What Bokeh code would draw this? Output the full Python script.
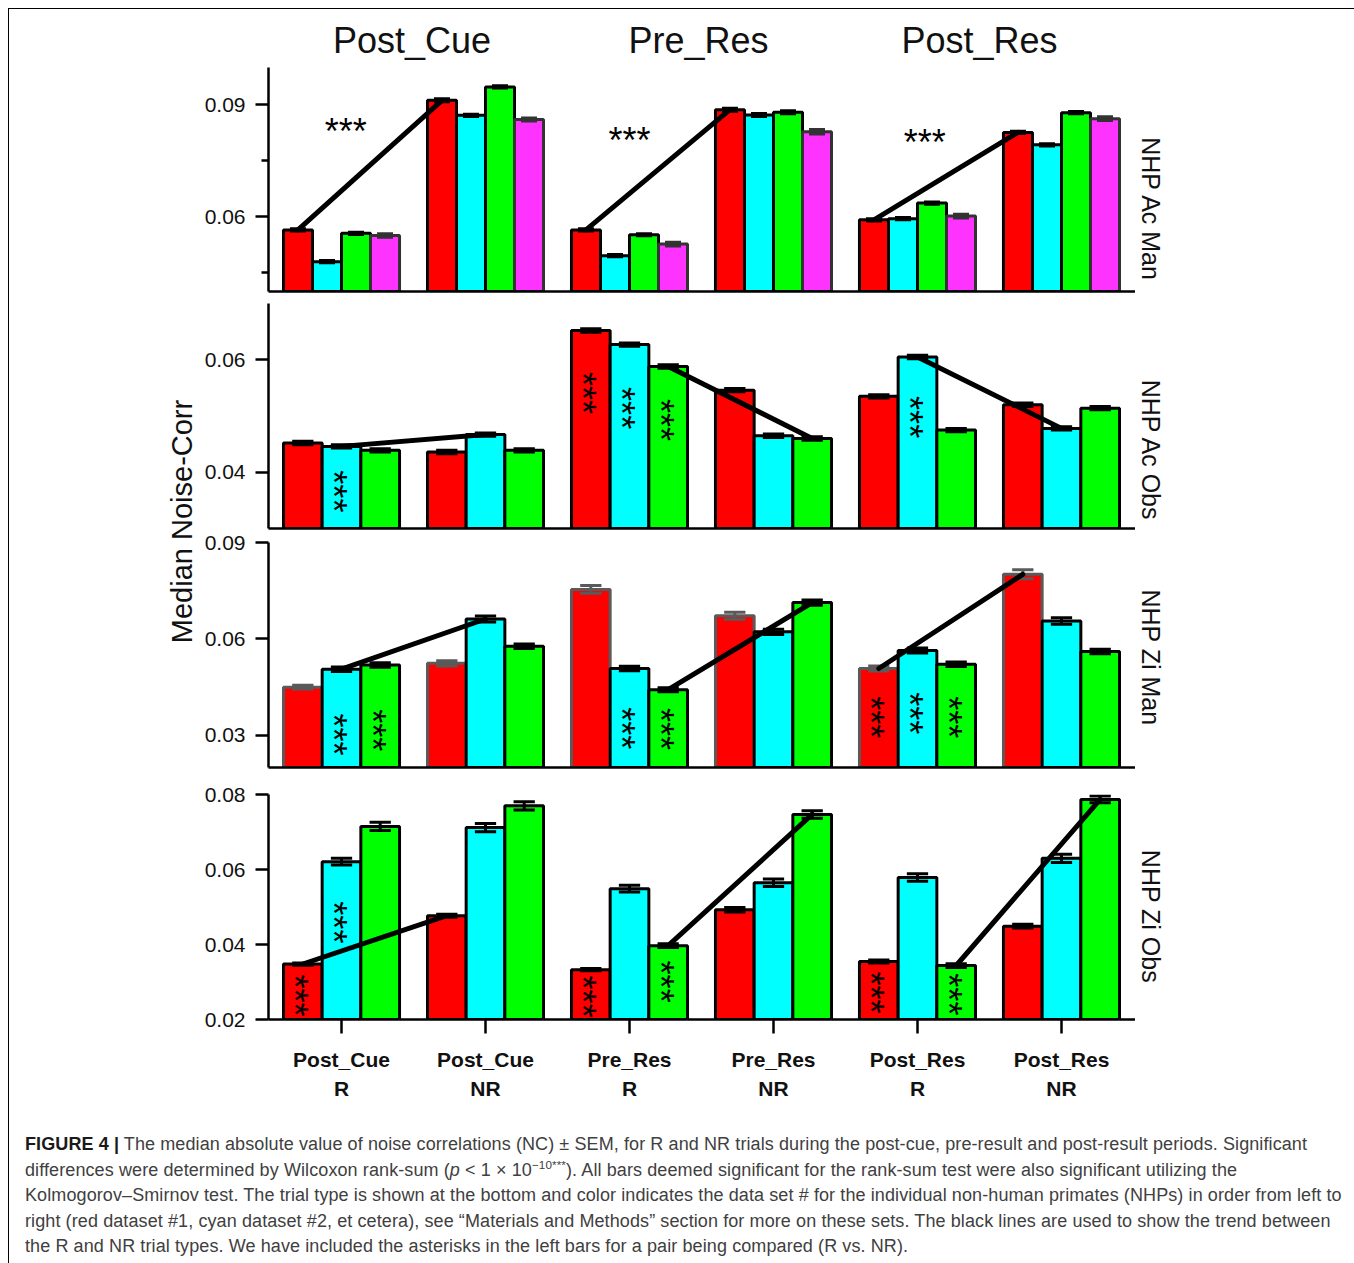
import math
from bokeh.plotting import figure
from bokeh.models import ColumnDataSource, FixedTicker, Range1d, Label, Div, PrintfTickFormatter
from bokeh.layouts import column, row
from bokeh.embed import file_html
from bokeh.resources import INLINE
from bokeh.core.properties import value

# ---------------- data ----------------
group_labels = ["Post_Cue\nR", "Post_Cue\nNR", "Pre_Res\nR", "Pre_Res\nNR", "Post_Res\nR", "Post_Res\nNR"]
period_titles = ["Post_Cue", "Pre_Res", "Post_Res"]
panel_labels = ["NHP Ac Man", "NHP Ac Obs", "NHP Zi Man", "NHP Zi Obs"]
dataset_colors = ["#FF0000", "#00FFFF", "#00FF00", "#FF33FF"]

# rows = trial groups (Post_Cue R, Post_Cue NR, Pre_Res R, Pre_Res NR, Post_Res R, Post_Res NR)
# cols = data sets (#1 red, #2 cyan, #3 green, #4 magenta)
ac_man_vals = [[0.0565, 0.0480, 0.0556, 0.0550],
               [0.0912, 0.0872, 0.0948, 0.0861],
               [0.0565, 0.0496, 0.0552, 0.0527],
               [0.0887, 0.0873, 0.0880, 0.0828],
               [0.0592, 0.0595, 0.0637, 0.0602],
               [0.0826, 0.0793, 0.0879, 0.0863]]
ac_man_sem = [[0.0003, 0.0003, 0.0003, 0.0005],
              [0.0004, 0.0003, 0.0003, 0.0004],
              [0.0003, 0.0003, 0.0003, 0.0005],
              [0.0004, 0.0004, 0.0004, 0.0006],
              [0.0003, 0.0003, 0.0003, 0.0005],
              [0.0003, 0.0003, 0.0003, 0.0005]]

ac_obs_vals = [[0.0452, 0.0446, 0.0439],
               [0.0436, 0.0467, 0.0439],
               [0.0652, 0.0627, 0.0588],
               [0.0546, 0.0465, 0.0460],
               [0.0535, 0.0605, 0.0475],
               [0.0520, 0.0478, 0.0514]]
ac_obs_sem = [[0.0003, 0.0003, 0.0003],
              [0.0003, 0.0003, 0.0003],
              [0.0003, 0.0003, 0.0003],
              [0.0003, 0.0003, 0.0003],
              [0.0003, 0.0003, 0.0003],
              [0.0003, 0.0003, 0.0003]]

zi_man_vals = [[0.0450, 0.0506, 0.0519],
               [0.0524, 0.0662, 0.0577],
               [0.0754, 0.0508, 0.0442],
               [0.0672, 0.0622, 0.0713],
               [0.0508, 0.0564, 0.0521],
               [0.0801, 0.0656, 0.0561]]
zi_man_sem = [[0.0006, 0.0007, 0.0007],
              [0.0008, 0.0009, 0.0007],
              [0.0012, 0.0007, 0.0006],
              [0.0011, 0.0008, 0.0008],
              [0.0008, 0.0008, 0.0007],
              [0.0014, 0.0010, 0.0007]]

zi_obs_vals = [[0.0348, 0.0621, 0.0715],
               [0.0477, 0.0712, 0.0770],
               [0.0333, 0.0549, 0.0397],
               [0.0493, 0.0565, 0.0747],
               [0.0355, 0.0579, 0.0344],
               [0.0449, 0.0630, 0.0787]]
zi_obs_sem = [[0.0003, 0.0009, 0.0011],
              [0.0004, 0.0011, 0.0011],
              [0.0003, 0.0009, 0.0005],
              [0.0006, 0.0010, 0.0010],
              [0.0004, 0.0010, 0.0005],
              [0.0005, 0.0011, 0.0009]]

# outline colour of each data set's bars in a panel
ac_man_outline = ["#000000", "#000000", "#000000", "#333333"]
ac_obs_outline = ["#000000", "#000000", "#000000"]
zi_man_outline = ["#5a5a5a", "#000000", "#000000"]
zi_obs_outline = ["#000000", "#000000", "#000000"]

# data set joined by the black trend line, per period (Post_Cue, Pre_Res, Post_Res)
ac_man_trend = [0, 0, 0]
ac_obs_trend = [1, 2, 1]
zi_man_trend = [1, 2, 0]
zi_obs_trend = [0, 2, 2]

# significance marks inside bars: (group, data set, height)
ac_obs_stars = [(0, 1, 0.0366), (2, 0, 0.0541), (2, 1, 0.0514), (2, 2, 0.0493), (4, 1, 0.0498)]
zi_man_stars = [(0, 1, 0.0303), (0, 2, 0.0316), (2, 1, 0.0322), (2, 2, 0.0320),
                (4, 0, 0.0356), (4, 1, 0.0369), (4, 2, 0.0356)]
zi_obs_stars = [(0, 0, 0.0264), (0, 1, 0.0459), (2, 0, 0.0261), (2, 2, 0.0301),
                (4, 0, 0.0272), (4, 2, 0.0267)]
# significance marks above bars: (x, height)
ac_man_top_stars = [(0.03, 0.0849), (2.0, 0.0826), (4.05, 0.0820)]

FONT = "Liberation Sans"
GROUP_W = 0.806
X0, X1 = -0.507, 5.514
FRAME_W = 867
LEFT_B = 69


def build(vals, sems, outlines, yr, major, minor, trend, stars, top_stars,
          top_b, bot_b, frame_h, bottom_axis):
    n = len(vals[0])
    bw = GROUP_W / n

    def xpos(g, s):
        return g + (s - (n - 1) / 2) * bw

    d = dict(x=[], top=[], fill=[], line=[], lo=[], hi=[])
    for g, grp in enumerate(vals):
        for s, v in enumerate(grp):
            d["x"].append(xpos(g, s))
            d["top"].append(v)
            d["fill"].append(dataset_colors[s])
            d["line"].append(outlines[s])
            d["lo"].append(v - sems[g][s])
            d["hi"].append(v + sems[g][s])
    src = ColumnDataSource(d)

    p = figure(frame_width=FRAME_W, frame_height=frame_h,
               x_range=Range1d(X0, X1), y_range=Range1d(*yr),
               output_backend="svg", toolbar_location=None, title=None,
               min_border_left=LEFT_B, min_border_right=0,
               min_border_top=top_b, min_border_bottom=bot_b)
    p.outline_line_color = None
    p.xgrid.visible = False
    p.ygrid.visible = False
    p.background_fill_color = "white"
    p.border_fill_color = None

    p.vbar(x="x", top="top", width=bw, fill_color="fill", line_color="line",
           line_width=3, source=src)
    p.segment(x0="x", y0="lo", x1="x", y1="hi", line_color="line", line_width=3, source=src)
    cw = bw * 0.55
    p.rect(x="x", y="hi", width=cw, height=3, height_units="screen",
           fill_color="line", line_color=None, source=src)
    p.rect(x="x", y="lo", width=cw, height=3, height_units="screen",
           fill_color="line", line_color=None, source=src)

    t = dict(x0=[], y0=[], x1=[], y1=[])
    for k, s in enumerate(trend):
        g0, g1 = 2 * k, 2 * k + 1
        t["x0"].append(xpos(g0, s)); t["y0"].append(vals[g0][s])
        t["x1"].append(xpos(g1, s)); t["y1"].append(vals[g1][s])
    p.segment(x0="x0", y0="y0", x1="x1", y1="y1", source=ColumnDataSource(t),
              line_color="black", line_width=5, line_cap="round")

    if stars:
        sx = [xpos(g, s) for g, s, _ in stars]
        sy = [h for _, _, h in stars]
        p.text(x=sx, y=sy, text=["***"] * len(sx), angle=-math.pi / 2,
               text_font=value(FONT), text_font_size="36px", text_color="black",
               text_align="center", text_baseline="middle", x_offset=-8)
    if top_stars:
        p.text(x=[a for a, _ in top_stars], y=[b for _, b in top_stars],
               text=["***"] * len(top_stars),
               text_font=value(FONT), text_font_size="36px", text_color="black",
               text_align="center", text_baseline="middle", y_offset=8)

    ya = p.yaxis[0]
    ya.ticker = FixedTicker(ticks=major, minor_ticks=minor)
    ya.formatter = PrintfTickFormatter(format="%.2f")
    ya.axis_line_width = 2.5
    ya.major_tick_line_width = 2.5
    ya.minor_tick_line_width = 2.5
    ya.major_tick_out = 13
    ya.major_tick_in = 0
    ya.minor_tick_out = 7
    ya.minor_tick_in = 0
    ya.major_label_text_font = FONT
    ya.major_label_text_font_size = "21px"
    ya.major_label_text_color = "#111111"
    ya.major_label_standoff = 10

    xa = p.xaxis[0]
    xa.axis_line_width = 2.5
    xa.minor_tick_line_color = None
    if bottom_axis:
        xa.ticker = FixedTicker(ticks=list(range(len(group_labels))))
        xa.major_label_overrides = {i: lab for i, lab in enumerate(group_labels)}
        xa.major_tick_out = 14
        xa.major_tick_in = 0
        xa.major_tick_line_width = 2.5
        xa.major_label_text_font = FONT
        xa.major_label_text_font_style = "bold"
        xa.major_label_text_font_size = "21px"
        xa.major_label_text_line_height = 1.3
        xa.major_label_text_color = "#111111"
        xa.major_label_standoff = 14
    else:
        xa.ticker = FixedTicker(ticks=[])
        xa.major_tick_out = 0
        xa.major_tick_in = 0
        xa.major_label_text_font_size = "0px"
        xa.major_label_standoff = 0
    return p


def blank(width, height, xr, yr, left=0):
    f = figure(width=width, height=height, x_range=xr, y_range=yr,
               output_backend="svg", toolbar_location=None, title=None,
               min_border=0, min_border_left=left, x_axis_location=None, y_axis_location=None)
    f.outline_line_color = None
    f.xgrid.visible = False
    f.ygrid.visible = False
    f.border_fill_color = None
    return f


# period titles above the top panel (same x scale as the panels)
tfig = figure(frame_width=FRAME_W, frame_height=58, x_range=Range1d(X0, X1), y_range=Range1d(0, 58),
              output_backend="svg", toolbar_location=None, title=None,
              min_border_left=LEFT_B, min_border_right=0, min_border_top=0, min_border_bottom=0,
              x_axis_location=None, y_axis_location=None)
tfig.outline_line_color = None
tfig.xgrid.visible = False
tfig.ygrid.visible = False
for xc, ttl in zip([0.49, 2.479, 4.431], period_titles):
    tfig.add_layout(Label(x=xc, y=27, text=ttl, text_font=FONT, text_font_size="36px",
                          text_color="#111111", text_align="center", text_baseline="middle"))

p1 = build(ac_man_vals, ac_man_sem, ac_man_outline, (0.04, 0.10), [0.06, 0.09], [0.045, 0.075],
           ac_man_trend, [], ac_man_top_stars, 0, 6, 224, False)
p2 = build(ac_obs_vals, ac_obs_sem, ac_obs_outline, (0.03, 0.07), [0.04, 0.06], [],
           ac_obs_trend, ac_obs_stars, [], 6, 2, 225, False)
p3 = build(zi_man_vals, zi_man_sem, zi_man_outline, (0.02, 0.09), [0.03, 0.06, 0.09], [],
           zi_man_trend, zi_man_stars, [], 12, 13, 225, False)
p4 = build(zi_obs_vals, zi_obs_sem, zi_obs_outline, (0.02, 0.08), [0.02, 0.04, 0.06, 0.08], [],
           zi_obs_trend, zi_obs_stars, [], 14, 90, 225, True)

# y label column
ylab = blank(190, 1100, Range1d(0, 190), Range1d(0, 1100))
ylab.add_layout(Label(x=172, y=588, text="Median Noise-Corr", angle=math.pi / 2,
                      text_font=FONT, text_font_size="29px", text_color="#111111",
                      text_align="center", text_baseline="middle"))

# panel names at the right
rlab = blank(216, 1100, Range1d(0, 216), Range1d(0, 1100))
for yc, name in zip([900, 659, 452, 193], panel_labels):
    rlab.add_layout(Label(x=15, y=yc, text=name, angle=-math.pi / 2,
                          text_font=FONT, text_font_size="25px", text_color="#111111",
                          text_align="center", text_baseline="middle"))

caption_html = (
    '<div style="font-family:\'Liberation Sans\',Arial,sans-serif;font-size:18px;'
    'letter-spacing:0.1px;line-height:25.5px;color:#404040;white-space:nowrap;padding:18px 0 0 11px;">'
    '<b style="color:#1a1a1a">FIGURE 4</b> <b style="color:#1a1a1a">|</b> The median absolute value of noise '
    'correlations (NC) ± SEM, for R and NR trials during the post-cue, pre-result and '
    'post-result periods. Significant<br>'
    'differences were determined by Wilcoxon rank-sum (<i>p</i> &lt; 1 × 10'
    '<sup style="font-size:0.65em;line-height:0">−10***</sup>). All bars deemed significant '
    'for the rank-sum test were also significant utilizing the<br>'
    'Kolmogorov–Smirnov test. The trial type is shown at the bottom and color indicates the '
    'data set # for the individual non-human primates (NHPs) in order from left to<br>'
    'right (red dataset #1, cyan dataset #2, et cetera), see “Materials and Methods” section '
    'for more on these sets. The black lines are used to show the trend between<br>'
    'the R and NR trial types. We have included the asterisks in the left bars for a pair '
    'being compared (R vs. NR).</div>'
)
caption = Div(text=caption_html, width=1342, height=154)

layout = column(row(ylab, column(tfig, p1, p2, p3, p4), rlab), caption,
                styles={"border": "1px solid #000000"}, margin=(8, 0, 0, 8))

open("out.html", "w").write(file_html(layout, INLINE))
